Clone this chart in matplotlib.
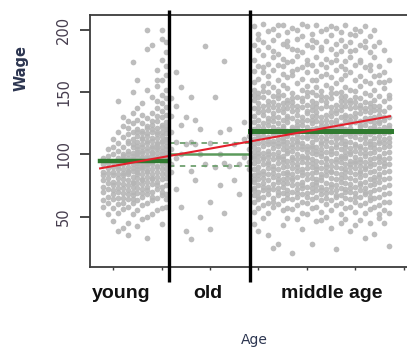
import matplotlib
matplotlib.use("Agg")
import matplotlib.pyplot as plt

# ---- data -------------------------------------------------------------
young_ages = [18, 19, 20, 21, 22, 23, 24, 25, 26, 27, 28, 29, 30, 31]
young_wages = [
    [74, 86, 63, 92, 79, 58, 97, 70, 83],
    [89, 72, 66, 99, 104, 81, 61, 77, 93, 52, 85],
    [94, 78, 106, 68, 86, 71, 100, 57, 90, 75, 46, 83, 112, 64],
    [97, 81, 143, 73, 88, 65, 103, 93, 77, 60, 84, 118, 53, 91, 109, 70, 38],
    [100, 85, 114, 76, 92, 69, 106, 61, 88, 96, 80, 123, 56, 73, 41, 130, 99, 83, 65],
    [103, 87, 116, 79, 94, 71, 109, 64, 97, 84, 121, 58, 90, 75, 45, 127, 111, 35, 86, 100, 68],
    [96, 106, 82, 150, 74, 92, 101, 67, 87, 125, 78, 112, 61, 95, 174, 133, 52, 99, 77, 118, 89, 108, 70, 64],
    [100, 110, 86, 120, 77, 95, 104, 69, 91, 128, 81, 115, 63, 98, 88, 137, 55, 102, 73, 160, 42, 118, 84, 93, 107],
    [103, 92, 117, 80, 98, 108, 72, 88, 125, 84, 112, 66, 95, 132, 59, 101, 76, 141, 48, 119, 90, 106, 79, 97, 113, 69],
    [105, 94, 121, 82, 200, 111, 74, 90, 129, 86, 115, 68, 97, 185, 61, 103, 78, 152, 50, 123, 92, 109, 33, 99, 87, 117, 71],
    [107, 96, 124, 84, 102, 113, 76, 92, 133, 88, 118, 70, 99, 146, 63, 105, 80, 188, 52, 127, 94, 111, 81, 101, 120, 66],
    [109, 98, 127, 86, 104, 116, 78, 160, 137, 90, 121, 72, 101, 155, 65, 108, 82, 168, 55, 131, 96, 113, 143, 91, 106, 118, 75],
    [111, 100, 130, 88, 200, 118, 80, 96, 141, 92, 124, 74, 103, 160, 67, 110, 84, 176, 57, 135, 98, 115, 193, 148, 44, 106, 122, 70],
    [112, 101, 132, 89, 107, 120, 81, 97, 145, 93, 126, 75, 104, 164, 68, 112, 85, 182, 58, 138, 99, 117, 190, 152, 122, 110, 95, 171, 64],
]

old_ages = [32, 32, 32, 32, 32, 33, 33, 33, 33, 34, 34, 34, 35, 35, 36, 36, 37, 38,
            38, 39, 40, 40, 41, 42, 42, 43, 43, 44, 45, 46, 47, 47, 48, 48, 48, 48,
            36, 37, 33, 34, 39, 41, 44, 46, 35, 43, 37, 40, 45, 32, 38, 42, 36, 47]
old_wages = [118, 104, 92, 131, 86, 139, 110, 97, 72, 154, 124, 58, 108, 38, 146, 87, 128, 120,
             50, 187, 40, 109, 146, 118, 75, 175, 53, 91, 108, 68, 112, 98, 104, 94, 115, 88,
             32, 79, 166, 100, 92, 90, 120, 92, 130, 93, 108, 62, 79, 145, 100, 100, 110, 126]

mid_ages = list(range(49, 78))
mid_wages = [
    [203, 188, 176, 167, 152, 144, 137, 131, 126, 120, 117, 112, 106, 102, 97, 93, 88, 83, 78, 73, 67, 62, 54, 44, 158, 99, 148, 109, 80, 71],
    [197, 184, 171, 161, 149, 141, 134, 128, 123, 118, 113, 109, 104, 99, 95, 90, 86, 80, 75, 70, 64, 57, 38, 193, 146, 115, 137, 101, 83, 66],
    [205, 190, 180, 166, 155, 146, 139, 132, 125, 121, 115, 110, 107, 101, 96, 92, 87, 81, 77, 71, 66, 59, 49, 170, 135, 84, 151, 118, 98, 74],
    [199, 186, 173, 163, 150, 143, 136, 129, 124, 119, 114, 108, 103, 98, 94, 89, 84, 79, 74, 68, 61, 53, 35, 157, 127, 100, 140, 111, 92, 71],
    [201, 192, 178, 168, 154, 147, 138, 133, 127, 122, 116, 111, 105, 100, 96, 91, 85, 82, 76, 72, 65, 58, 25, 183, 142, 118, 130, 108, 88, 62],
    [196, 181, 172, 160, 151, 145, 140, 130, 125, 120, 117, 112, 107, 102, 97, 93, 88, 83, 78, 73, 67, 60, 28, 204, 136, 109, 148, 99, 80, 70],
    [204, 189, 177, 165, 156, 148, 141, 134, 128, 123, 118, 113, 108, 104, 99, 94, 90, 85, 80, 74, 69, 63, 55, 43, 171, 121, 137, 111, 96, 77],
    [198, 187, 174, 162, 153, 144, 137, 131, 126, 119, 115, 110, 106, 101, 95, 91, 86, 81, 77, 71, 65, 57, 49, 191, 129, 103, 141, 116, 84, 68],
    [202, 185, 175, 164, 149, 142, 135, 129, 122, 117, 112, 108, 103, 98, 93, 89, 84, 79, 75, 70, 64, 56, 21, 167, 139, 96, 145, 120, 106, 81],
    [200, 193, 179, 169, 157, 146, 139, 132, 127, 121, 116, 111, 105, 100, 96, 92, 87, 82, 76, 72, 66, 59, 48, 184, 124, 114, 136, 109, 90, 69],
    [195, 182, 170, 161, 152, 145, 138, 130, 124, 119, 114, 109, 104, 99, 94, 88, 83, 78, 73, 68, 62, 53, 40, 205, 143, 107, 127, 97, 86, 75],
    [203, 188, 176, 166, 155, 147, 140, 133, 128, 122, 118, 113, 107, 102, 97, 93, 89, 84, 80, 74, 69, 61, 52, 173, 135, 98, 150, 115, 104, 66],
    [197, 186, 172, 160, 150, 143, 136, 131, 125, 120, 115, 110, 105, 101, 96, 90, 85, 81, 76, 70, 64, 57, 28, 192, 128, 117, 139, 107, 93, 73],
    [204, 190, 178, 167, 154, 148, 141, 134, 127, 121, 116, 112, 106, 100, 95, 91, 86, 80, 75, 71, 66, 58, 46, 160, 138, 103, 131, 119, 88, 78],
    [199, 184, 173, 163, 151, 144, 137, 130, 126, 119, 114, 108, 104, 99, 94, 89, 84, 79, 74, 68, 63, 54, 47, 186, 123, 110, 147, 101, 82, 71],
    [201, 191, 177, 165, 156, 146, 139, 132, 124, 120, 117, 111, 107, 102, 97, 92, 87, 83, 77, 72, 65, 60, 50, 170, 142, 96, 128, 113, 90, 69],
    [196, 185, 174, 162, 153, 145, 138, 131, 126, 122, 115, 110, 105, 100, 95, 91, 86, 81, 76, 70, 63, 55, 41, 203, 134, 118, 149, 103, 87, 74],
    [202, 189, 176, 168, 157, 149, 140, 133, 128, 121, 116, 112, 106, 101, 96, 90, 85, 80, 75, 71, 66, 59, 24, 181, 125, 108, 136, 114, 94, 67],
    [198, 183, 171, 161, 150, 143, 136, 130, 124, 119, 114, 109, 104, 99, 94, 89, 84, 78, 73, 67, 61, 52, 45, 192, 139, 113, 146, 121, 97, 81],
    [204, 187, 175, 164, 154, 147, 139, 132, 127, 120, 116, 111, 106, 102, 97, 92, 88, 82, 77, 72, 65, 57, 48, 169, 130, 99, 143, 108, 86, 70],
    [197, 190, 178, 166, 152, 144, 137, 131, 125, 121, 115, 110, 105, 100, 95, 90, 86, 81, 76, 70, 64, 58, 38, 183, 141, 117, 128, 102, 92, 73],
    [201, 184, 172, 160, 151, 146, 138, 130, 126, 119, 114, 108, 103, 98, 93, 89, 84, 79, 74, 69, 62, 54, 43, 196, 133, 107, 142, 117, 95, 66],
    [199, 188, 174, 163, 155, 145, 140, 133, 127, 122, 117, 112, 107, 101, 96, 91, 87, 82, 77, 71, 66, 59, 47, 176, 124, 94, 137, 105, 85, 75],
    [203, 186, 170, 159, 149, 142, 135, 129, 124, 118, 113, 109, 104, 99, 94, 88, 83, 78, 73, 68, 61, 53, 33, 191, 137, 115, 127, 101, 90, 70],
    [195, 182, 168, 157, 148, 141, 134, 127, 121, 116, 111, 106, 101, 96, 91, 86, 80, 75, 70, 63, 56, 45, 172, 129, 108, 138, 119, 93, 66],
    [200, 178, 163, 152, 144, 136, 130, 123, 118, 113, 108, 102, 97, 92, 87, 82, 76, 71, 65, 58, 36, 187, 139, 120, 126, 105, 79],
    [190, 171, 158, 147, 139, 132, 125, 120, 115, 109, 104, 99, 94, 89, 84, 78, 72, 66, 59, 52, 49, 164, 127, 111, 136, 97, 82],
    [184, 166, 153, 143, 135, 128, 122, 117, 112, 106, 101, 96, 91, 86, 80, 74, 68, 62, 55, 45, 158, 130, 109, 119, 93],
    [176, 160, 148, 138, 130, 124, 118, 113, 107, 102, 97, 92, 87, 81, 75, 69, 62, 53, 26, 145, 121, 110],
]

# step-function fit: cut points and mean wage per interval
cut_ages = [31.6, 48.3]
step_start = [17.3, 31.6, 48.3]
step_end = [31.6, 48.3, 77.4]
step_means = [94.5, 100.0, 118.5]
old_band = [109.0, 91.0]

# linear fit end points
fit_ages = [17.3, 77.2]
fit_wages = [88.7, 130.6]

group_labels = ["young", "old", "middle age"]
y_ticks = [50, 100, 150, 200]
x_ticks = [20, 30, 40, 50, 60, 70, 80]

# ---- figure -----------------------------------------------------------
fig = plt.figure(figsize=(4.07, 3.51), dpi=100)
ax = fig.add_axes([0.221, 0.239, 0.799, 0.718])

pts_x, pts_y = [], []
for a, ws in zip(young_ages, young_wages):
    pts_x += [a] * len(ws)
    pts_y += ws
pts_x += old_ages
pts_y += old_wages
for a, ws in zip(mid_ages, mid_wages):
    pts_x += [a] * len(ws)
    pts_y += ws

ax.scatter(pts_x, pts_y, s=17, color="#b6b6b6", alpha=0.9, linewidths=0, zorder=2)

green = "#2f7a2f"
ax.plot([step_start[0], step_end[0]], [step_means[0]] * 2, color=green, lw=3.2, zorder=3)
ax.plot([step_start[1], step_end[1]], [step_means[1]] * 2, color="#5c9a5c", lw=1.8, zorder=3)
for b in old_band:
    ax.plot([step_start[1], step_end[1]], [b, b], color="#6fa06f", lw=1.3,
            ls=(0, (3, 3)), zorder=3)
ax.plot([step_start[2], step_end[2]], [step_means[2]] * 2, color=green, lw=3.6, zorder=3)

ax.plot(fit_ages, fit_wages, color="#e3202c", lw=1.5, zorder=4)

for c in cut_ages:
    ax.plot([c, c], [-2.5, 216], color="black", lw=2.4, clip_on=False, zorder=5,
            solid_capstyle="butt")

ax.set_xlim(15.2, 82.4)
ax.set_ylim(9.3, 212)

for side in ["left", "top", "bottom"]:
    ax.spines[side].set_color("#3c3c3c")
    ax.spines[side].set_linewidth(1.3)
ax.spines["right"].set_visible(False)

ax.set_yticks(y_ticks)
ax.set_yticklabels([str(v) for v in y_ticks], rotation=90, va="center",
                   fontsize=10.5, color="#463d4e", family="DejaVu Sans")
ax.tick_params(axis="y", length=7.5, width=1.3, color="#3c3c3c", pad=6)
ax.set_xticks(x_ticks)
ax.set_xticklabels([])
ax.tick_params(axis="x", length=2.5, width=1.0, color="#3c3c3c")

label_x = [0.297, 0.511, 0.816]
for lx, txt in zip(label_x, group_labels):
    fig.text(lx, 0.163, txt, ha="center", va="center", fontsize=14,
             fontweight="bold", family="Liberation Sans", color="#111111")

fig.text(0.052, 0.806, "Wage", rotation=90, ha="center", va="center",
         fontsize=10.5, fontweight="bold", family="DejaVu Sans", color="#2c3550")
fig.text(0.624, 0.032, "Age", ha="center", va="center",
         fontsize=10, family="DejaVu Sans", color="#2c3550")

fig.savefig("out.png", dpi=100)
